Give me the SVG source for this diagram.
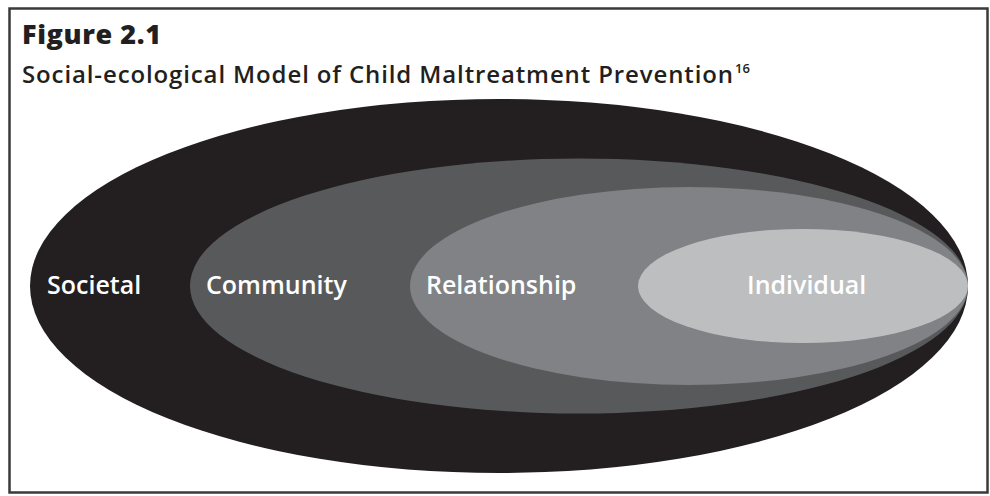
<svg xmlns="http://www.w3.org/2000/svg" width="990" height="496" viewBox="0 0 990 496">
  <style>
    .frame { fill: #ffffff; stroke: #3a3a3a; stroke-width: 2.5; }
    .title { font-family: "Open Sans", "Liberation Sans", sans-serif; font-weight: 800; font-size: 27px; letter-spacing: 0.6px; fill: #231f20; }
    .subtitle { font-family: "Open Sans", "Liberation Sans", sans-serif; font-weight: 600; font-size: 24px; fill: #231f20; }
    .sup { font-family: "Open Sans", "Liberation Sans", sans-serif; font-weight: 600; font-size: 13px; fill: #231f20; }
    .label { font-family: "Open Sans", "Liberation Sans", sans-serif; font-weight: 600; font-size: 25px; fill: #ffffff; }
  </style>

  <rect class="frame" x="9.5" y="8.5" width="978" height="484"/>

  <g id="heading">
    <text class="title" x="22" y="44">Figure 2.1</text>
    <text class="subtitle" x="22" y="83" textLength="711" lengthAdjust="spacing">Social-ecological Model of Child Maltreatment Prevention</text>
    <text class="sup" x="735" y="73">16</text>
  </g>

  <g id="societal">
    <ellipse cx="499" cy="286" rx="469" ry="187" fill="#231f20"/>
    <text class="label" x="47" y="294">Societal</text>
  </g>
  <g id="community">
    <ellipse cx="579" cy="286" rx="389" ry="127.5" fill="#58595b"/>
    <text class="label" x="206" y="294">Community</text>
  </g>
  <g id="relationship">
    <ellipse cx="689" cy="286" rx="279" ry="99" fill="#808285"/>
    <text class="label" x="426" y="294">Relationship</text>
  </g>
  <g id="individual">
    <ellipse cx="803" cy="286" rx="165" ry="57" fill="#bcbec0"/>
    <text class="label" x="747" y="294">Individual</text>
  </g>

  <g id="connectors"/>
</svg>
